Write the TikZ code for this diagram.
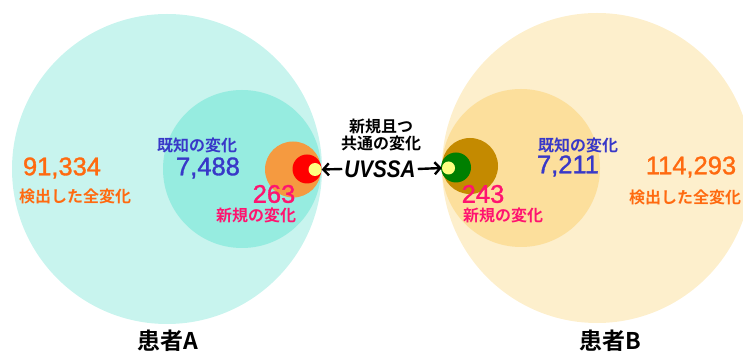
\documentclass[tikz,border=0pt]{standalone}
\usepackage{fontspec}
\setmainfont{Liberation Sans}
\newfontfamily\numfont{Liberation Sans}[FakeBold=1.3]
\newfontfamily\jpb{Noto Sans CJK JP Bold}
\usetikzlibrary{arrows.meta}
\definecolor{cyanA}{HTML}{C8F4EE}
\definecolor{cyanB}{HTML}{96ECE0}
\definecolor{orangeC}{HTML}{F59A40}
\definecolor{redC}{HTML}{FF0000}
\definecolor{yelC}{HTML}{FFFF80}
\definecolor{sandA}{HTML}{FDEFCC}
\definecolor{sandB}{HTML}{FCDF9C}
\definecolor{brownC}{HTML}{C48A00}
\definecolor{greenC}{HTML}{007F00}
\definecolor{txtorange}{HTML}{FF6A10}
\definecolor{txtblue}{HTML}{3838C8}
\definecolor{txtpink}{HTML}{FF1470}
\tikzset{
  disc/.style={circle,inner sep=0pt,minimum size=#1},
  num/.style={inner sep=0pt,font=\numfont\fontsize{25.5}{26}\selectfont},
  jlab/.style={inner sep=0pt,font=\jpb\fontsize{16}{18}\selectfont},
  title/.style={inner sep=0pt,font=\jpb\fontsize{23}{25}\selectfont},
  arr/.style={line width=2.4pt,-{Straight Barb[length=5.5pt,width=12pt]}}
}
\begin{document}
\begin{tikzpicture}[x=1pt,y=1pt]
\useasboundingbox (0,0) rectangle (743,353);
\clip (0,0) rectangle (743,353);
% patient A
\node[disc=310pt,fill=cyanA] (Abig) at (167,184) {};
\node[disc=158pt,fill=cyanB] (Amid) at (242,184) {};
\node[disc=56pt,fill=orangeC] (Anew) at (293,183.5) {};
\node[disc=29pt,fill=redC] (Ared) at (307,184) {};
\node[disc=13pt,fill=yelC] (Ayel) at (315,183.5) {};
% patient B
\node[disc=310pt,fill=sandA] (Bbig) at (597,185) {};
\node[disc=158pt,fill=sandB] (Bmid) at (521,185) {};
\node[disc=56pt,fill=brownC] (Bnew) at (470,187) {};
\node[disc=30pt,fill=greenC] (Bgreen) at (456,185.5) {};
\node[disc=13pt,fill=yelC] (Byel) at (448.5,185) {};
% texts A
\node[num,text=txtorange] (Atot) at (62,185) {91,334};
\node[jlab,text=txtorange] (Atotl) at (75,157) {検出した全変化};
\node[jlab,text=txtblue] (Aknl) at (197,208) {既知の変化};
\node[num,text=txtblue] (Akn) at (208,185) {7,488};
\node[num,text=txtpink] (Anw) at (274,159) {263};
\node[jlab,text=txtpink] (Anwl) at (256,138) {新規の変化};
\node[title] (Atitle) at (168,12) {患者A};
% texts B
\node[jlab,text=txtblue] (Bknl) at (578,208) {既知の変化};
\node[num,text=txtblue] (Bkn) at (568,187) {7,211};
\node[num,text=txtorange] (Btot) at (691,186) {114,293};
\node[jlab,text=txtorange] (Btotl) at (685,156) {検出した全変化};
\node[num,text=txtpink] (Bnw) at (483,159) {243};
\node[jlab,text=txtpink] (Bnwl) at (503,138) {新規の変化};
\node[title] (Btitle) at (610,12) {患者B};
% centre
\node[jlab] (c1) at (381,226) {新規且つ};
\node[jlab] (c2) at (381,210) {共通の変化};
\node[inner sep=0pt,font=\bfseries\itshape\fontsize{24}{26}\selectfont] (uv) at (380,184) {\scalebox{0.86}[1]{UVSSA}};
\draw[arr] ([xshift=-2pt]uv.west) -- (Ayel.east);
\draw[arr] ([xshift=2pt]uv.east) -- (Byel.west);
\end{tikzpicture}
\end{document}
